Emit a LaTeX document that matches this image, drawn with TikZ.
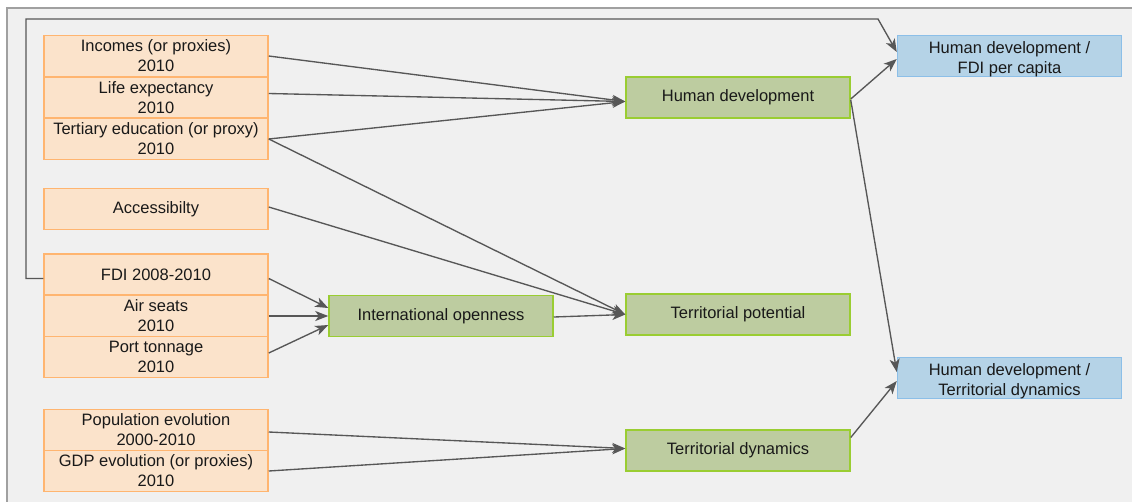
\documentclass[tikz,border=0pt]{standalone}
\usepackage{fontspec}
\setmainfont{Liberation Sans}
\usetikzlibrary{arrows.meta,calc}
\definecolor{orfill}{HTML}{FBE3CB}
\definecolor{ordraw}{HTML}{FFB570}
\definecolor{grfill}{HTML}{BDCCA0}
\definecolor{grdraw}{HTML}{9ACD32}
\definecolor{blfill}{HTML}{B5D3E7}
\definecolor{bldraw}{HTML}{8CBFE8}
\definecolor{panelfill}{HTML}{F0F0F0}
\definecolor{paneldraw}{HTML}{A0A0A0}
\definecolor{arcol}{HTML}{575757}
\tikzset{
  boxtext/.style={align=center, font=\fontsize{16.5}{20}\selectfont, text=black!90, inner sep=0pt},
  box/.style={rectangle, minimum width=224pt, minimum height=41pt, inner sep=0pt,
    line width=1.5pt, boxtext},
  obox/.style={box, fill=orfill, draw=ordraw},
  gbox/.style={box, fill=grfill, draw=grdraw},
  bbox/.style={box, fill=blfill, draw=bldraw},
  arr/.style={draw=arcol, line width=1.35pt, -{Stealth[length=13pt,width=10pt,inset=3.5pt]}}
}
\begin{document}
\begin{tikzpicture}[x=1pt,y=-1pt]
\useasboundingbox (0,0) rectangle (1132,501);
\clip (0,0) rectangle (1132,501);
\fill[white] (0,0) rectangle (1132,501);
\fill[panelfill] (7,8) rectangle (1150,520);
\draw[paneldraw, line width=1.2pt] (1150,8) -- (7,8) -- (7,520);

% input boxes
\node[obox] (inc)  at (156,56)    {Incomes (or proxies)\\2010};
\node[obox] (life) at (156,97.5)  {Life expectancy\\2010};
\node[obox] (tert) at (156,139)   {Tertiary education (or proxy)\\2010};
\node[obox] (acc)  at (156,209)   {Accessibilty};
\node[obox] (fdi)  at (156,274.5) {FDI 2008-2010};
\node[obox] (air)  at (156,316)   {Air seats\\2010};
\node[obox] (port) at (156,357)   {Port tonnage\\2010};
\node[obox] (pop)  at (156,430)   {Population evolution\\2000-2010};
\node[obox] (gdp)  at (156,471)   {GDP evolution (or proxies)\\2010};

% intermediate
\node[gbox] (hd) at (738,97.5)  {Human development};
\node[gbox] (io) at (441,316)   {International openness};
\node[gbox] (tp) at (738,314.5) {Territorial potential};
\node[gbox] (td) at (738,450.5) {Territorial dynamics};

% outputs
\node[bbox] (hdf) at (1009.5,56)  {};
\node[boxtext] (hdftxt) at ($(hdf.center)+(0,3)$) {Human development /\\FDI per capita};
\node[bbox] (hdt) at (1009.5,378) {};
\node[boxtext] (hdttxt) at ($(hdt.center)+(0,3)$) {Human development /\\Territorial dynamics};

% connectors
\draw[arr] (inc.east) -- ($(hd.west)+(0,4)$);
\draw[arr] ($(life.east)+(0,-4)$) -- ($(hd.west)+(0,4)$);
\draw[arr] (tert.east) -- ($(hd.west)+(0,4)$);
\draw[arr] (tert.east) -- (tp.west);
\draw[arr] ($(acc.east)+(0,-2)$) -- (tp.west);
\draw[arr] ($(io.east)+(0,1)$) -- (tp.west);
\draw[arr] ($(fdi.east)+(0,4)$) -- ($(io.west)+(0,-8)$);
\draw[arr] (air.east) -- (io.west);
\draw[arr] ($(port.east)+(0,-4)$) -- ($(io.west)+(0,9)$);
\draw[arr] ($(pop.east)+(0,2)$) -- ($(td.west)+(0,-2)$);
\draw[arr] (gdp.east) -- ($(td.west)+(0,-2)$);
\draw[arr] ($(hd.east)+(0,1.5)$) -- ($(hdf.west)+(0,3)$);
\draw[arr] ($(hd.east)+(0,2.5)$) -- ($(hdt.west)+(0,-6)$);
\draw[arr] ($(td.east)+(0,-13)$) -- ($(hdt.west)+(0,3)$);

% feedback
\coordinate (fbA) at (26,19);
\coordinate (fbB) at (878,19);
\draw[arr] ($(fdi.west)+(0,4)$) -| (fbA) -- (fbB) -- ($(hdf.west)+(0,-4)$);
\end{tikzpicture}
\end{document}
